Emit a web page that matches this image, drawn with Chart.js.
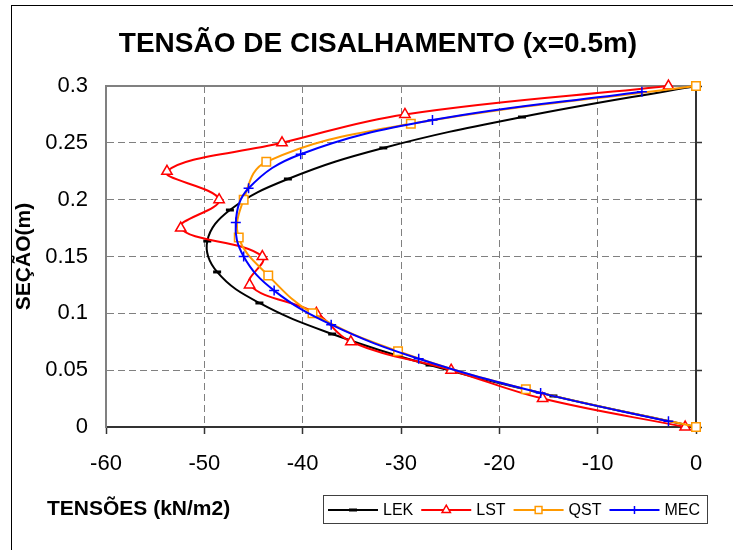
<!DOCTYPE html>
<html>
<head>
<meta charset="utf-8">
<title>Tensão de cisalhamento</title>
<script src="https://cdn.jsdelivr.net/npm/chart.js@4.4.1/dist/chart.umd.min.js"></script>
<style>
  html, body { margin: 0; padding: 0; background: #fff; }
  #wrap { position: relative; width: 733px; height: 550px; overflow: hidden; }
  /* outer chart frame, only left and top edges are visible in the original */
  #frame { position: absolute; left: 11px; top: 5px; width: 900px; height: 700px;
           border-left: 1px solid #000; border-top: 1px solid #000; }
  #chart { position: absolute; left: 0; top: 0; }
</style>
</head>
<body>
<div id="wrap">
  <div id="frame"></div>
  <canvas id="chart" width="733" height="550"></canvas>
</div>
<script>
const FONT = 'Arial, "Liberation Sans", sans-serif';

const chartTitle = 'TENSÃO DE CISALHAMENTO (x=0.5m)';
const xTitle = 'TENSÕES (kN/m2)';
const yTitle = 'SEÇÃO(m)';

// section height (m) / shear stress (kN/m2)
const lekY   = [0, 0.0273, 0.0545, 0.0818, 0.1091, 0.1364, 0.1636, 0.1909, 0.2182, 0.2455, 0.2727, 0.3];
const lekTau = [0, -14.5, -27.1, -37.0, -44.4, -48.7, -49.7, -47.4, -41.5, -31.8, -17.7, 0];

const lstY   = [0, 0.025, 0.05, 0.075, 0.1, 0.125, 0.15, 0.175, 0.2, 0.225, 0.25, 0.275, 0.3];
const lstTau = [-1.1, -15.6, -24.9, -35.1, -38.6, -45.4, -44.1, -52.4, -48.5, -53.8, -42.1, -29.6, -2.8];

const qstY   = [0, 0.0333, 0.0667, 0.1, 0.1333, 0.1667, 0.2, 0.2333, 0.2667, 0.3];
const qstTau = [0, -17.3, -30.3, -39.0, -43.5, -46.5, -46.0, -43.7, -29.0, 0];

const mecY   = [0.005, 0.03, 0.06, 0.09, 0.12, 0.15, 0.18, 0.21, 0.24, 0.27, 0.295];
const mecTau = [-2.8, -15.8, -28.2, -37.1, -42.9, -46.0, -46.8, -45.5, -40.2, -26.8, -5.5];

const xMin = -60, xMax = 0, xStep = 10;
const yMin = 0, yMax = 0.3, yStep = 0.05;

const toPoints = (ys, taus) => ys.map((y, i) => ({ x: taus[i], y: y }));

// one dataset per method, Excel-like markers
const makeDataset = (label, ys, taus, color, style, order) => ({
    label: label,
    data: toPoints(ys, taus),
    showLine: true,
    borderColor: color,
    borderWidth: 2,
    tension: 0.4,
    pointStyle: style.pointStyle,
    pointRadius: style.radius,
    pointBorderWidth: style.borderWidth,
    pointBorderColor: color,
    pointBackgroundColor: style.fill,
    order: order, // later series on top, like in the original
    clip: false,
});

const datasets = [
    makeDataset('LEK', lekY, lekTau, '#000000', { pointStyle: 'line', radius: 4, borderWidth: 3, fill: '#000000' }, 4),
    makeDataset('LST', lstY, lstTau, '#ff0000', { pointStyle: 'triangle', radius: 6, borderWidth: 1.5, fill: '#ffffff' }, 3),
    makeDataset('QST', qstY, qstTau, '#ff9900', { pointStyle: 'rect', radius: 6, borderWidth: 1.5, fill: '#ffffff' }, 2),
    makeDataset('MEC', mecY, mecTau, '#0000ff', { pointStyle: 'cross', radius: 5, borderWidth: 1.5, fill: '#0000ff' }, 1),
];

// top edge of the plot area (gray, like the left one)
const plotFrame = {
    id: 'plotFrame',
    beforeDatasetsDraw(chart) {
        const { ctx, chartArea } = chart;
        ctx.save();
        ctx.strokeStyle = '#808080';
        ctx.lineWidth = 2;
        ctx.beginPath();
        ctx.moveTo(chartArea.left - 1, chartArea.top);
        ctx.lineTo(chartArea.right, chartArea.top);
        ctx.stroke();
        ctx.restore();
    }
};

// title, x axis title and the boxed legend at the bottom
const annotations = {
    id: 'annotations',
    afterDraw(chart) {
        const ctx = chart.ctx;
        ctx.save();
        ctx.fillStyle = '#000';
        ctx.textBaseline = 'middle';

        ctx.font = 'bold 28px ' + FONT;
        ctx.textAlign = 'center';
        ctx.fillText(chartTitle, 378, 44);

        ctx.font = 'bold 21px ' + FONT;
        ctx.textAlign = 'left';
        ctx.fillText(xTitle, 47, 509);

        // legend box
        ctx.strokeStyle = '#404040';
        ctx.lineWidth = 1;
        ctx.strokeRect(323.5, 495.5, 384, 28);

        ctx.font = '16px ' + FONT;
        let x = 328;
        const y = 510;
        chart.data.datasets.forEach((ds) => {
            ctx.strokeStyle = ds.borderColor;
            ctx.lineWidth = 2;
            ctx.beginPath();
            ctx.moveTo(x, y);
            ctx.lineTo(x + 50, y);
            ctx.stroke();

            ctx.fillStyle = ds.pointBackgroundColor;
            ctx.lineWidth = ds.pointBorderWidth;
            const r = ds.pointStyle === 'line' ? ds.pointRadius : ds.pointRadius * 0.8;
            Chart.helpers.drawPoint(ctx, { pointStyle: ds.pointStyle, radius: r, borderWidth: ds.pointBorderWidth, rotation: 0 }, x + 25, y);

            ctx.fillStyle = '#000';
            ctx.fillText(ds.label, x + 55, y + 1);
            x += 55 + ctx.measureText(ds.label).width + 8;
        });
        ctx.restore();
    }
};

const gridDash = [7, 4];

new Chart(document.getElementById('chart'), {
    type: 'scatter',
    data: { datasets: datasets },
    options: {
        responsive: false,
        animation: false,
        layout: { padding: { left: 0, top: 86, right: 0, bottom: 0 } },
        plugins: {
            legend: { display: false },
            tooltip: { enabled: false },
        },
        scales: {
            x: {
                type: 'linear',
                position: 'bottom',
                min: xMin,
                max: xMax,
                ticks: {
                    stepSize: xStep,
                    color: '#000',
                    padding: 17,
                    font: { family: FONT, size: 22 },
                },
                grid: { color: '#808080', lineWidth: 1, tickLength: 7, tickColor: '#333', tickWidth: 1.5 },
                border: { color: '#333', width: 2, dash: gridDash },
                afterFit: (scale) => { scale.height = 123; },
            },
            y: {
                type: 'linear',
                position: 'left',
                min: yMin,
                max: yMax,
                ticks: {
                    stepSize: yStep,
                    color: '#000',
                    padding: 18,
                    font: { family: FONT, size: 22 },
                    callback: (v) => String(Number(v.toFixed(2))),
                },
                grid: { color: '#808080', lineWidth: 1, drawTicks: false },
                border: { color: '#808080', width: 2, dash: gridDash },
                title: {
                    display: true,
                    text: yTitle,
                    color: '#000',
                    padding: { top: 12, bottom: 0 },
                    font: { family: FONT, size: 21, weight: 'bold' },
                },
                afterFit: (scale) => { scale.width = 106; },
            },
            // the y axis crosses at x = 0, on the right side of the plot
            y2: {
                type: 'linear',
                position: 'right',
                min: yMin,
                max: yMax,
                ticks: { stepSize: yStep, display: false },
                grid: { drawOnChartArea: false, tickLength: 6, tickColor: '#333', tickWidth: 1.5 },
                border: { color: '#333', width: 2 },
                afterFit: (scale) => { scale.width = 37; },
            },
        },
    },
    plugins: [plotFrame, annotations],
});
</script>
</body>
</html>
